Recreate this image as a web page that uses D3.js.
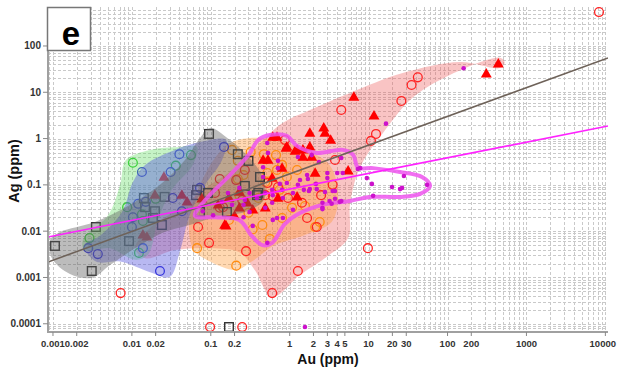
<!DOCTYPE html>
<html>
<head>
<meta charset="utf-8">
<script src="https://cdn.jsdelivr.net/npm/d3@7"></script>
<style>
    body { margin: 0; background: #fff; }
    text { font-family: "Liberation Sans", Arial, sans-serif; }
</style>
</head>
<body>
<svg id="chart" width="617" height="372"></svg>
<script>
    // values are [Au ppm, Ag ppm]
    var graySquares = [[0.00106,0.0048],[0.0035,0.0123],[0.0031,0.00138],[0.0092,0.0061],[0.0142,0.052],
        [0.0147,0.033],[0.0196,0.027],[0.0185,0.0193],[0.024,0.0136],[0.026,0.055],[0.065,0.060],[0.067,0.078],
        [0.073,0.026],[0.092,0.067],[0.16,0.026],[0.27,0.095],[0.385,0.060],[0.17,0.000085],[0.095,1.26],
        [0.22,0.46],[0.30,0.33],[0.42,0.148],[0.40,0.067]];
    var blueCircles = [[0.0134,0.19],[0.031,0.19],[0.040,0.46],[0.147,0.66],[0.0028,0.0043],[0.0037,0.0032],
        [0.0103,0.020],[0.010,0.0123],[0.012,0.039],[0.015,0.043],[0.0138,0.0043],[0.0227,0.00138],
        [0.033,0.052],[0.043,0.027],[0.073,0.086]];
    var greenCircles = [[0.0103,0.30],[0.036,0.26],[0.056,0.44],[0.0029,0.0071],[0.0087,0.033],[0.0134,0.023],
        [0.0138,0.0166],[0.020,0.050],[0.0123,0.0034]];
    var orangeCircles = [[0.186,0.57],[0.22,0.33],[0.47,0.46],[0.22,0.134],[0.23,0.060],[0.067,0.0043],
        [0.21,0.0018],[0.34,0.011],[0.30,0.025],[0.17,0.0175],[0.56,0.0068],[2.4,0.0158],[0.32,0.51],
        [0.67,0.44],[0.69,0.21],[0.52,0.18],[0.80,0.27],[0.75,0.078],[0.92,0.148],[0.49,0.116],[0.26,0.163],
        [1.24,0.21],[2.1,0.0123],[0.80,0.0193],[0.45,0.0136],[1.56,0.035],[0.40,0.052],[1.07,0.032]];
    var redCircles = [[8300,540],[4.5,4.15],[26,6.5],[35,14.4],[42,21],[12.4,1.26],[10.7,0.89],[3.75,0.345],
        [3.5,0.1],[0.87,0.93],[0.13,0.134],[0.21,0.127],[0.27,0.21],[0.25,0.047],[0.49,0.060],[1.43,0.041],
        [1.66,0.0193],[2.2,0.0123],[0.95,0.052],[0.61,0.057],[0.13,0.032],[0.71,0.090],[0.52,0.11],
        [0.069,0.0123],[0.095,0.0056],[0.28,0.0037],[0.60,0.00046],[0.0072,0.00046],[0.098,0.000085],
        [0.25,0.000085],[1.27,0.00138],[9.8,0.0043],[2.5,0.060],[0.113,0.067],[0.143,0.033]];
    var redTriangles = [[440,41],[310,25],[6.5,7.9],[11.7,3.1],[1.8,1.32],[2.7,1.7],[2.8,1.32],[3.3,0.93],
        [1.8,0.66],[1.47,0.57],[1.47,0.40],[1.9,0.40],[2.1,0.18],[5.5,0.20],[0.92,0.66],[1.17,0.54],
        [0.61,1.08],[0.69,1.08],[0.46,0.345],[0.53,0.345],[0.90,0.625],[1.24,0.57],[0.60,0.14],[0.80,0.23],
        [1.24,0.055],[0.71,0.052],[0.49,0.032],[0.34,0.029],[0.23,0.032],[0.15,0.0136],[0.0255,0.148],
        [0.0196,0.060],[0.043,0.060],[0.050,0.043],[0.077,0.050],[0.124,0.037],[0.17,0.052],[0.23,0.070],
        [0.29,0.041],[0.20,0.0213],[0.156,0.013],[0.0138,0.0083],[0.0155,0.0075]];
    var magentaDots = [[160,33],[16.6,2.1],[4.5,0.38],[7.8,0.23],[28,0.156],[11,0.105],[19.8,0.09],[25,0.081],
        [26.5,0.086],[55,0.1],[9.5,0.14],[11.4,0.058],[1.56,0.000085],[2.6,0.032],[3.2,0.045],[3.4,0.039],
        [4.5,0.045],[3.75,0.074],[2.15,0.105],[1.51,0.078],[1.8,0.081],[0.71,0.33],[1.27,0.40],[2.35,0.31],
        [3.0,0.18],[4.0,0.18],[4.7,0.18],[7.3,0.22],[3.0,0.14],[1.66,0.163],[1.7,0.134],[1.35,0.127],[1.27,0.1],
        [0.92,0.11],[0.75,0.105],[0.60,0.078],[0.80,0.078],[0.61,0.060],[0.49,0.067],[0.385,0.052],[0.31,0.067],
        [0.27,0.047],[0.26,0.037],[0.49,0.032],[0.60,0.041],[0.82,0.052],[1.1,0.067],[1.75,0.074],[2.2,0.081],
        [2.8,0.070],[3.5,0.074],[3.75,0.050],[4.3,0.043],[2.6,0.041],[1.1,0.029],[2.6,0.030],[0.61,0.0175],
        [0.82,0.0193],[0.34,0.013],[0.26,0.020],[0.31,0.026],[0.46,0.148],[0.46,0.24],[0.71,0.23],[0.53,0.49],
        [1.9,0.44],[0.52,0.80],[0.52,0.0056],[0.69,0.0193],[0.079,0.027],[0.107,0.022],[0.139,0.043],
        [0.186,0.037],[0.23,0.086],[0.165,0.067]];

    // group outlines
    var redHull = [[462,56],[530,44],[462,33.5],[144,45],[27,26],[5.8,9.7],[1.8,4.15],[0.82,2.2],[0.46,0.93],
        [0.23,0.27],[0.098,0.1],[0.041,0.032],[0.017,0.0117],[0.011,0.0043],[0.0147,0.0026],[0.035,0.0039],
        [0.098,0.0043],[0.23,0.0035],[0.36,0.00145],[0.60,0.00038],[1.35,0.00113],[3.05,0.0029],[5.5,0.0071],
        [5.8,0.037],[7.1,0.163],[9.5,0.44],[15.2,1.32],[33.5,6.8],[80,18.5]];
    var orangeHull = [[0.186,0.84],[0.49,1.03],[1.35,0.63],[3.2,0.27],[4.1,0.060],[3.4,0.0158],[1.56,0.0083],
        [0.65,0.0050],[0.33,0.0022],[0.21,0.00145],[0.098,0.0022],[0.059,0.0043],[0.054,0.022],[0.073,0.1],
        [0.113,0.38]];
    var greenHull = [[0.0024,0.0065],[0.0050,0.022],[0.0071,0.1],[0.0084,0.345],[0.017,0.57],[0.041,0.66],
        [0.067,0.66],[0.059,0.27],[0.032,0.078],[0.0214,0.0175],[0.016,0.0031],[0.011,0.0024],[0.0053,0.0043],
        [0.0025,0.0039]];
    var blueHull = [[0.0025,0.0050],[0.0039,0.0079],[0.0075,0.026],[0.0103,0.115],[0.0147,0.27],[0.035,0.57],
        [0.073,0.84],[0.156,0.93],[0.139,0.345],[0.085,0.1],[0.054,0.022],[0.041,0.0039],[0.030,0.00102],
        [0.017,0.0013],[0.0071,0.0022],[0.0035,0.0022]];
    var grayHull = [[0.00092,0.0065],[0.00123,0.0096],[0.0034,0.0158],[0.0095,0.037],[0.0227,0.1],[0.047,0.345],
        [0.073,1.03],[0.098,1.7],[0.15,1.14],[0.31,0.38],[0.47,0.128],[0.47,0.047],[0.27,0.026],[0.13,0.0213],
        [0.054,0.0136],[0.026,0.0096],[0.0127,0.0050],[0.0053,0.00186],[0.0031,0.00098],[0.00164,0.00119],
        [0.00097,0.0026]];
    var magentaOutline = [[0.40,0.93],[0.56,1.19],[0.92,1.14],[1.24,0.69],[2.2,0.49],[4.7,0.57],[6.4,0.44],
        [7.3,0.24],[11.4,0.23],[25,0.19],[47.5,0.148],[60,0.095],[45,0.064],[25,0.055],[10.4,0.055],[5.8,0.045],
        [2.6,0.037],[1.35,0.0247],[0.87,0.0143],[0.60,0.0056],[0.45,0.0050],[0.33,0.0079],[0.23,0.0175],
        [0.113,0.020],[0.063,0.0213],[0.085,0.047],[0.175,0.163],[0.30,0.44]];

    // regression lines, two points each
    var grayFit = [[0.001,0.00236],[10000,52.5]];
    var magentaFit = [[0.001,0.00785],[10000,1.82]];

    var yTickVals = [0.0001, 0.001, 0.01, 0.1, 1, 10, 100];
    var xTickVals = [0.001, 0.002, 0.01, 0.02, 0.1, 0.2, 1, 2, 3, 4, 5, 10, 20, 30, 100, 200, 1000, 10000];

    var svg = d3.select('#chart');
    var pLeft = 48, pRight = 608, pTop = 7, pBottom = 332;

    var x = d3.scaleLog().domain([0.000865, 10800]).range([pLeft, pRight]);
    var y = d3.scaleLog().domain([0.0000664, 695]).range([pBottom, pTop]);

    svg.append('clipPath').attr('id', 'clip').append('rect')
        .attr('x', pLeft).attr('y', pTop).attr('width', pRight - pLeft).attr('height', pBottom - pTop);

    // dashed grid on every minor tick
    var grid = svg.append('g').attr('stroke', '#c9c9c9').attr('stroke-dasharray', '3,2').attr('stroke-width', 1);
    grid.selectAll('.gx').data(x.ticks(20)).enter().append('line')
        .attr('x1', function (d) { return Math.round(x(d)) + 0.5; })
        .attr('x2', function (d) { return Math.round(x(d)) + 0.5; })
        .attr('y1', pTop).attr('y2', pBottom);
    grid.selectAll('.gy').data(y.ticks(20)).enter().append('line')
        .attr('y1', function (d) { return Math.round(y(d)) + 0.5; })
        .attr('y2', function (d) { return Math.round(y(d)) + 0.5; })
        .attr('x1', pLeft).attr('x2', pRight);

    var plot = svg.append('g').attr('clip-path', 'url(#clip)');
    var hullLine = d3.line()
        .x(function (d) { return x(d[0]); })
        .y(function (d) { return y(d[1]); })
        .curve(d3.curveCatmullRomClosed.alpha(0.5));

    function hull(pts, fill, op) {
        plot.append('path').attr('d', hullLine(pts))
            .attr('fill', fill).attr('fill-opacity', op).attr('stroke', 'none');
    }

    hull(redHull, '#ee5555', 0.35);
    hull(orangeHull, '#ff9933', 0.38);

    // points
    function circles(data, color) {
        plot.append('g').selectAll('circle').data(data).enter().append('circle')
            .attr('cx', function (d) { return x(d[0]); })
            .attr('cy', function (d) { return y(d[1]); })
            .attr('r', 4.4).attr('fill', 'none').attr('stroke', color).attr('stroke-width', 1.3);
    }
    circles(orangeCircles, '#ff8c10');
    circles(redCircles, '#ff2222');
    circles(greenCircles, '#22c822');
    circles(blueCircles, '#2424dd');

    plot.append('g').selectAll('rect').data(graySquares).enter().append('rect')
        .attr('x', function (d) { return x(d[0]) - 4.3; })
        .attr('y', function (d) { return y(d[1]) - 4.3; })
        .attr('width', 8.6).attr('height', 8.6)
        .attr('fill', 'none').attr('stroke', '#333').attr('stroke-width', 1.4);

    var tri = d3.symbol().type(d3.symbolTriangle).size(52);
    plot.append('g').selectAll('path').data(redTriangles).enter().append('path')
        .attr('d', tri)
        .attr('transform', function (d) { return 'translate(' + x(d[0]) + ',' + (y(d[1]) + 0.5) + ')'; })
        .attr('fill', '#ff0000');

    // these sit over the points and tint them
    hull(greenHull, '#66dd66', 0.38);
    hull(blueHull, '#5555dd', 0.42);
    hull(grayHull, '#5f5f5f', 0.42);

    plot.append('path').attr('d', hullLine(magentaOutline))
        .attr('fill', 'none').attr('stroke', '#ee55ee').attr('stroke-width', 4).attr('stroke-opacity', 0.85);

    plot.append('g').selectAll('circle').data(magentaDots).enter().append('circle')
        .attr('cx', function (d) { return x(d[0]); })
        .attr('cy', function (d) { return y(d[1]); })
        .attr('r', 2.3).attr('fill', '#cc11cc');

    // fit lines stretched to the plot edges
    function fitLine(pts, color) {
        var a0 = Math.log10(pts[0][0]), g0 = Math.log10(pts[0][1]);
        var s = (Math.log10(pts[1][1]) - g0) / (Math.log10(pts[1][0]) - a0);
        var ends = x.domain().map(function (a) {
            return [a, Math.pow(10, g0 + s * (Math.log10(a) - a0))];
        });
        plot.append('line')
            .attr('x1', x(ends[0][0])).attr('y1', y(ends[0][1]))
            .attr('x2', x(ends[1][0])).attr('y2', y(ends[1][1]))
            .attr('stroke', color).attr('stroke-width', 1.6);
    }
    fitLine(grayFit, '#6e6259');
    fitLine(magentaFit, '#ff22ff');

    // axes
    svg.append('line').attr('x1', pLeft).attr('x2', pLeft).attr('y1', pTop).attr('y2', pBottom + 1)
        .attr('stroke', '#a0a0a0').attr('stroke-width', 2);
    svg.append('line').attr('x1', pLeft - 1).attr('x2', pRight).attr('y1', pBottom).attr('y2', pBottom)
        .attr('stroke', '#a0a0a0').attr('stroke-width', 2);

    var yt = svg.append('g').selectAll('g').data(yTickVals).enter().append('g');
    yt.append('line').attr('x1', pLeft - 5).attr('x2', pLeft)
        .attr('y1', function (d) { return y(d); }).attr('y2', function (d) { return y(d); })
        .attr('stroke', '#888');
    yt.append('text').attr('x', pLeft - 7).attr('y', function (d) { return y(d) + 3.5; })
        .attr('text-anchor', 'end').attr('font-size', 10).attr('font-weight', 'bold').attr('fill', '#333')
        .text(function (d) { return String(d); });

    var xt = svg.append('g').selectAll('g').data(xTickVals).enter().append('g');
    xt.append('line').attr('y1', pBottom).attr('y2', pBottom + 4)
        .attr('x1', function (d) { return x(d); }).attr('x2', function (d) { return x(d); })
        .attr('stroke', '#888');
    // last label is pulled in so it stays on the page
    xt.append('text').attr('y', pBottom + 15)
        .attr('x', function (d, i) { return i === xTickVals.length - 1 ? 616 : x(d); })
        .attr('text-anchor', function (d, i) { return i === xTickVals.length - 1 ? 'end' : 'middle'; })
        .attr('font-size', 9.5).attr('font-weight', 'bold').attr('fill', '#333')
        .text(function (d) { return String(d); });

    svg.append('text').attr('x', 328).attr('y', 364).attr('text-anchor', 'middle')
        .attr('font-size', 14).attr('font-weight', 'bold').attr('fill', '#111').text('Au (ppm)');
    svg.append('text').attr('transform', 'translate(19,171) rotate(-90)').attr('text-anchor', 'middle')
        .attr('font-size', 14.5).attr('font-weight', 'bold').attr('fill', '#111').text('Ag (ppm)');

    // panel letter
    svg.append('rect').attr('x', 47.5).attr('y', 7.5).attr('width', 43).attr('height', 43)
        .attr('fill', '#fff').attr('stroke', '#777').attr('stroke-width', 1.5);
    svg.append('text').attr('x', 71).attr('y', 45).attr('text-anchor', 'middle')
        .attr('font-size', 33).attr('font-weight', 'bold').attr('fill', '#000').text('e');
</script>
</body>
</html>
